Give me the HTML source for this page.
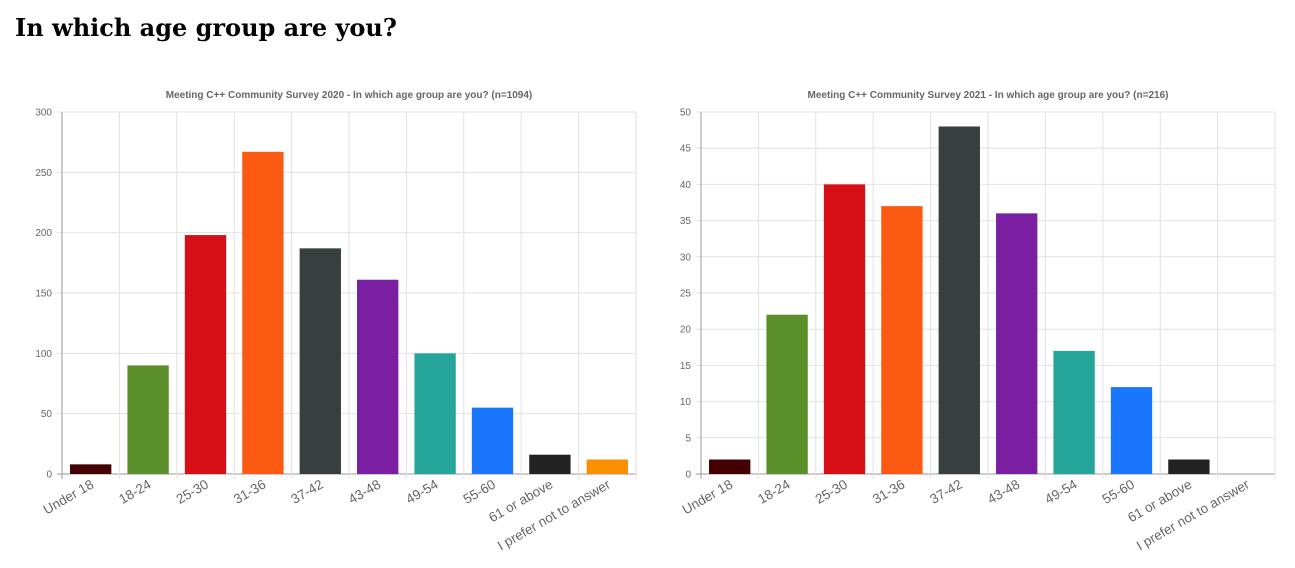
<!DOCTYPE html>
<html><head><meta charset="utf-8"><style>
body{margin:0;background:#fff;width:1295px;height:568px;overflow:hidden;font-family:"Liberation Sans",sans-serif}
h1{position:absolute;left:15px;top:13px;margin:0;font-family:"DejaVu Serif","Liberation Serif",serif;font-size:24px;font-weight:bold;color:#000}
svg{position:absolute;left:0;top:0}
</style></head><body>
<h1>In which age group are you?</h1>
<svg id="c" width="1295" height="568"></svg>
<script>
const categories=["Under 18","18-24","25-30","31-36","37-42","43-48","49-54","55-60","61 or above","I prefer not to answer"];
const colors=["#450003","#5a8f29","#d50f15","#fa5a11","#373f3f","#7b1fa2","#26a69a","#1976fd","#222222","#fa8f00"];
const values2020=[8,90,198,267,187,161,100,55,16,12];
const values2021=[2,22,40,37,48,36,17,12,2,0];
const ticks2020=[0,50,100,150,200,250,300];
const ticks2021=[0,5,10,15,20,25,30,35,40,45,50];
const NS="http://www.w3.org/2000/svg";
const svg=document.getElementById('c');
function mk(tag,attrs,parent){const e=document.createElementNS(NS,tag);for(const k in attrs)e.setAttribute(k,attrs[k]);(parent||svg).appendChild(e);return e;}
function chart(id,title,vals,ticks,x0,x1,y0,y1){
  const g=mk('g',{});
  
  
  const max=ticks[ticks.length-1];
  const ys=v=>y0-(v/max)*(y0-y1);
  const bw=(x1-x0)/categories.length;
  const t=mk('text',{x:(x0+x1)/2,y:98,'text-anchor':'middle','font-size':'10','font-weight':'bold',fill:'#666'},g);
  t.textContent=title;
  
  
  ticks.forEach(v=>{
    const y=ys(v);
    mk('line',{x1:x0-5,x2:x1,y1:y,y2:y,stroke:v===0?'#999':'#e2e2e2','stroke-width':1},g);
    const l=mk('text',{x:x0-10,y:y+3.5,'text-anchor':'end','font-size':'10',fill:'#666'},g);
    l.textContent=v;
    
    
  });
  for(let i=0;i<=categories.length;i++){
    const x=x0+i*bw;
    mk('line',{x1:x,x2:x,y1:y1,y2:y0+5,stroke:i===0?'#999':'#e2e2e2','stroke-width':1},g);
  }
  categories.forEach((c,i)=>{
    const cx=x0+(i+0.5)*bw;
    const v=vals[i];
    const r=mk('rect',{x:cx-bw*0.36,y:ys(v),width:bw*0.72,height:y0-ys(v),fill:colors[i]},g);
    
    
    const l=mk('text',{x:0,y:0,'text-anchor':'end','font-size':'13.5',fill:'#666',transform:`translate(${cx+4},${y0+13}) rotate(-30)`},g);
    l.textContent=c;
    
    
  });
}
chart('chart-2020','Meeting C++ Community Survey 2020 - In which age group are you? (n=1094)',values2020,ticks2020,62,636,474,112);
chart('chart-2021','Meeting C++ Community Survey 2021  - In which age group are you? (n=216)',values2021,ticks2021,701,1275,474,112);
</script>
</body></html>
